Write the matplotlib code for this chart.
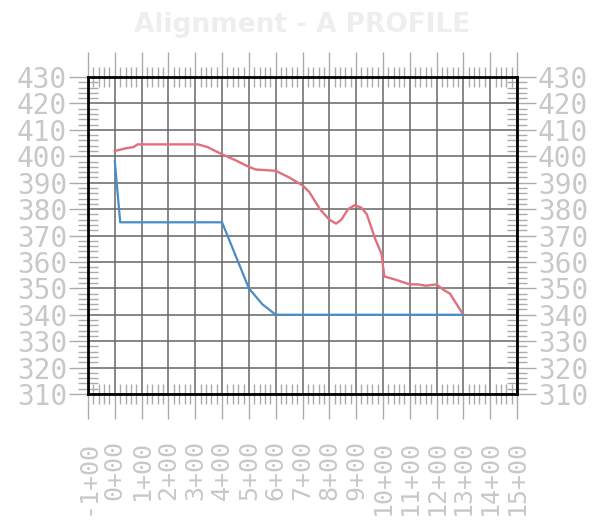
import numpy as np
import matplotlib
matplotlib.use("Agg")
import matplotlib.pyplot as plt
from matplotlib.ticker import MultipleLocator

# stations (in 100 ft) and elevations
existing_sta = [0.0, 0.4, 0.7, 0.85, 1.2, 3.1, 3.45, 4.05, 4.5, 5.0, 5.25, 6.0,
                6.5, 7.0, 7.25, 7.65, 8.0, 8.25, 8.45, 8.7, 8.95, 9.2, 9.4,
                9.7, 9.95, 10.05, 10.4, 11.0, 11.3, 11.6, 12.0, 12.25, 12.5, 13.0]
existing_elev = [402, 403, 403.5, 404.5, 404.5, 404.5, 403.5, 400.5, 398.5, 396,
                 395, 394.5, 392, 389, 386.5, 380, 376, 374.5, 376, 380, 381.5,
                 380.5, 378, 369, 363, 354.5, 353.5, 351.5, 351.5, 351, 351.5,
                 349.5, 348, 340]

proposed_sta = [0.0, 0.2, 4.0, 4.6, 5.0, 5.5, 6.0, 13.0]
proposed_elev = [398, 375, 375, 360, 350, 344, 340, 340]

x_ticks = list(range(-1, 16))
x_labels = [f"{s}+00" for s in x_ticks]
y_ticks = list(range(310, 431, 10))

title = "Alignment - A PROFILE"

plt.rcParams['font.family'] = ['DejaVu Sans Mono']

fig = plt.figure(figsize=(6.05, 5.29), dpi=100)
ax = fig.add_axes([0.1455, 0.2552, 0.709, 0.5992])

ax.plot(existing_sta, existing_elev, color='#e0707c', lw=1.7, zorder=3)
ax.plot(proposed_sta, proposed_elev, color='#4a8cc4', lw=1.6, zorder=3)

ax.set_xlim(-1, 15)
ax.set_ylim(310, 430)

ax.set_xticks(x_ticks)
ax.set_xticklabels(x_labels, rotation=90)
ax.set_yticks(y_ticks)
ax.xaxis.set_minor_locator(MultipleLocator(0.2))
ax.yaxis.set_minor_locator(MultipleLocator(2))

ax.grid(which='major', color='#666666', lw=1.1)
ax.set_axisbelow(True)

lab_c = '#c8c8c8'
tick_c = '#ababab'
ax.tick_params(axis='x', which='major', direction='out', length=18, width=1,
               top=True, bottom=True, color=tick_c, labelsize=18,
               labelcolor=lab_c, pad=15)
ax.tick_params(axis='y', which='major', direction='out', length=14, width=1,
               left=True, right=True, labelleft=True, labelright=True,
               color=tick_c, labelsize=20, labelcolor=lab_c, pad=1)
ax.tick_params(which='minor', direction='inout', length=15, width=1,
               top=True, bottom=True, left=True, right=True, color=tick_c)

for sp in ax.spines.values():
    sp.set_color('black')
    sp.set_linewidth(2)
    sp.set_zorder(4)

fig.text(0.5, 0.953, title, ha='center', va='center', fontsize=19,
         fontweight='bold', color='#eeeeee', family='DejaVu Sans')

fig.savefig('out.png', dpi=100, facecolor='white')
